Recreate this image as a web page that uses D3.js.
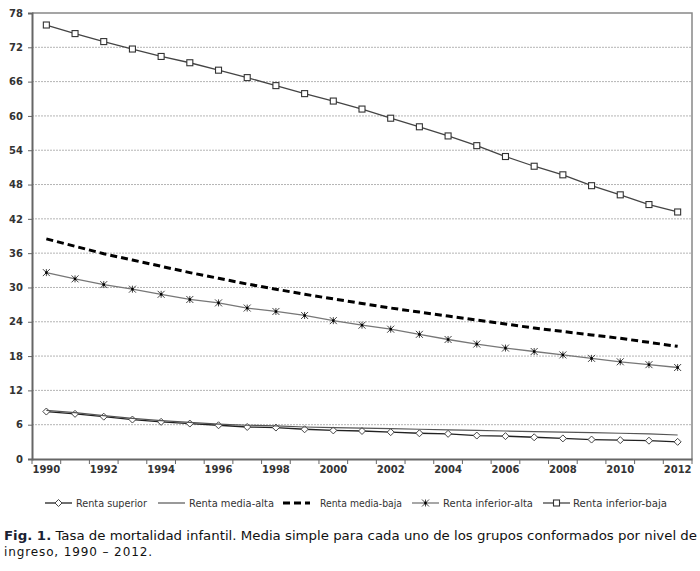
<!DOCTYPE html>
<html><head><meta charset="utf-8">
<script src="https://cdn.jsdelivr.net/npm/d3@7"></script>
<style>body{margin:0;background:#fff}svg{display:block}</style>
</head><body>
<svg id="c" width="700" height="571"></svg>
<script>
const years = d3.range(1990, 2013);
const yTicks = [0,6,12,18,24,30,36,42,48,54,60,66,72,78];
const xTickLabels = [1990,1992,1994,1996,1998,2000,2002,2004,2006,2008,2010,2012];
const rentaSuperior = [8.3,7.9,7.4,6.9,6.5,6.2,5.9,5.6,5.5,5.2,5.0,4.9,4.7,4.5,4.4,4.1,4.0,3.8,3.6,3.4,3.3,3.2,3.0];
const rentaMediaAlta = [8.5,8.1,7.6,7.1,6.7,6.4,6.1,5.9,5.8,5.6,5.5,5.4,5.3,5.2,5.1,5.0,4.9,4.8,4.7,4.6,4.5,4.4,4.2];
const rentaMediaBaja = [38.5,37.2,35.9,34.8,33.7,32.6,31.6,30.6,29.7,28.8,28.0,27.2,26.4,25.7,25.0,24.3,23.6,22.9,22.3,21.7,21.1,20.4,19.7];
const rentaInferiorAlta = [32.6,31.5,30.5,29.7,28.8,27.9,27.3,26.4,25.8,25.1,24.2,23.4,22.7,21.8,20.9,20.1,19.4,18.8,18.2,17.6,17.0,16.5,16.0];
const rentaInferiorBaja = [75.9,74.4,73.0,71.7,70.4,69.3,68.0,66.7,65.3,63.9,62.6,61.2,59.6,58.1,56.5,54.8,52.9,51.2,49.7,47.8,46.2,44.5,43.2];
const seriesNames = ["Renta superior","Renta media-alta","Renta media-baja","Renta inferior-alta","Renta inferior-baja"];

const series = [
  {name: seriesNames[0], values: rentaSuperior, color:"#222", width:1.3, dash:null, marker:"diamond"},
  {name: seriesNames[1], values: rentaMediaAlta, color:"#555", width:1.2, dash:null, marker:null},
  {name: seriesNames[2], values: rentaMediaBaja, color:"#000", width:3, dash:"7,4", marker:null},
  {name: seriesNames[3], values: rentaInferiorAlta, color:"#777", width:1.3, dash:null, marker:"star"},
  {name: seriesNames[4], values: rentaInferiorBaja, color:"#444", width:1.3, dash:null, marker:"square"}
];

const svg = d3.select("#c");
const L=32, R=692, T=13, B=459;
const x = d3.scaleBand().domain(years).range([L,R]);
const y = d3.scaleLinear().domain([0,78]).range([B,T]);
const cx = d => x(d)+x.bandwidth()/2;

// gridlines
svg.append("g").selectAll("line").data(yTicks.filter(t=>t>0&&t<78)).join("line")
  .attr("x1",L).attr("x2",R).attr("y1",d=>y(d)).attr("y2",d=>y(d))
  .attr("stroke","#b4b4b4").attr("stroke-width",1).attr("stroke-dasharray","2,1");

// frame top/right
svg.append("path").attr("d",`M${L},${T}H${R}V${B}`).attr("fill","none").attr("stroke","#888").attr("stroke-width",1.5);

// y axis
const ya = svg.append("g").attr("transform",`translate(${L},0)`)
  .call(d3.axisLeft(y).tickValues(yTicks).tickSize(4).tickPadding(5));
ya.select(".domain").attr("stroke","#666").attr("stroke-width",2);
ya.selectAll(".tick line").attr("stroke","#666");
ya.selectAll("text").attr("font-family","DejaVu Sans").attr("font-weight","bold").attr("font-size","10px").attr("fill","#333");

// x axis
const xa = svg.append("g").attr("transform",`translate(0,${B})`)
  .call(d3.axisBottom(x).tickValues(xTickLabels).tickSize(0).tickPadding(7));
xa.select(".domain").attr("stroke","#666").attr("stroke-width",2);
xa.selectAll("text").attr("font-family","DejaVu Sans").attr("font-weight","bold").attr("font-size","10px").attr("fill","#333");
// tick marks at band boundaries
svg.append("g").selectAll("line").data(years.concat([2013])).join("line")
  .attr("x1",d=>d===2013?R:x(d)).attr("x2",d=>d===2013?R:x(d))
  .attr("y1",B).attr("y2",B+5).attr("stroke","#666").attr("stroke-width",1);

const line = d3.line().x((d,i)=>cx(years[i])).y(d=>y(d));

function drawMarker(g, type, px, py, color){
  if(type==="diamond"){
    g.append("path").attr("d",`M${px},${py-3.5}L${px+3.5},${py}L${px},${py+3.5}L${px-3.5},${py}Z`)
      .attr("fill","#fff").attr("stroke","#444").attr("stroke-width",1);
  } else if(type==="square"){
    g.append("rect").attr("x",px-3).attr("y",py-3).attr("width",6).attr("height",6)
      .attr("fill","#fff").attr("stroke","#333").attr("stroke-width",1.1);
  } else if(type==="star"){
    const s=3.5;
    g.append("path").attr("d",`M${px-s},${py-s}L${px+s},${py+s}M${px-s},${py+s}L${px+s},${py-s}M${px},${py-s}V${py+s}`)
      .attr("stroke","#444").attr("stroke-width",1);
    g.append("rect").attr("x",px-1.2).attr("y",py-1.2).attr("width",2.4).attr("height",2.4).attr("fill","#000");
  }
}

series.forEach(s=>{
  const g = svg.append("g");
  g.append("path").datum(s.values).attr("d",line).attr("fill","none")
    .attr("stroke",s.color).attr("stroke-width",s.width).attr("stroke-dasharray",s.dash);
  if(s.marker){
    s.values.forEach((v,i)=>drawMarker(g,s.marker,cx(years[i]),y(v),s.color));
  }
});

// legend
const legendX = [[45,76],[158,189],[283,320],[412,443],[543,573]];
const legendW = [71,85,82,90,94];
const ly = 503;
const lg = svg.append("g");
series.forEach((s,i)=>{
  const [x0,tx]=legendX[i];
  const x1 = x0+27;
  lg.append("line").attr("x1",x0).attr("x2",x1).attr("y1",ly).attr("y2",ly)
    .attr("stroke",s.color).attr("stroke-width",s.width).attr("stroke-dasharray",s.dash);
  if(s.marker) drawMarker(lg,s.marker,(x0+x1)/2,ly,s.color);
  lg.append("text").attr("x",tx).attr("y",ly+3.5).text(s.name)
    .attr("textLength",legendW[i]).attr("lengthAdjust","spacingAndGlyphs")
    .attr("font-family","DejaVu Sans").attr("font-size","10px").attr("fill","#333");
});

// caption
const cap = svg.append("g").attr("font-family","DejaVu Sans").attr("font-size","12px").attr("fill","#111");
const t1 = cap.append("text").attr("x",4).attr("y",540).attr("textLength",693).attr("lengthAdjust","spacingAndGlyphs");
t1.append("tspan").attr("font-weight","bold").attr("fill","#1a2233").text("Fig. 1.");
t1.append("tspan").text(" Tasa de mortalidad infantil. Media simple para cada uno de los grupos conformados por nivel de");
cap.append("text").attr("x",4).attr("y",556).attr("textLength",148).attr("lengthAdjust","spacing").text("ingreso, 1990 – 2012.");
</script>
</body></html>
